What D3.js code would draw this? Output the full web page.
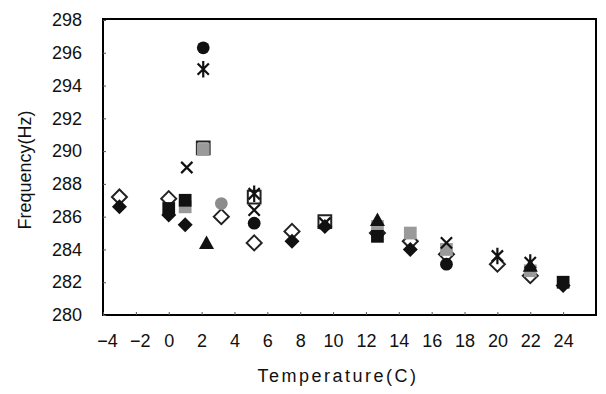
<!DOCTYPE html>
<html><head><meta charset="utf-8">
<script src="https://cdn.jsdelivr.net/npm/d3@7"></script>
<style>
html,body{margin:0;padding:0;background:#fff;}
text{font-family:"Liberation Sans",Arial,sans-serif;fill:#111;}
</style></head>
<body><svg id="c" width="606" height="394"></svg>
<script>
// ---- data (temperature °C, frequency Hz) ----
const xTicks = [-4,-2,0,2,4,6,8,10,12,14,16,18,20,22,24];
const yTicks = [280,282,284,286,288,290,292,294,296,298];
const hollowDiamond = [[-3,287.2],[0,287.1],[3.2,286.0],[5.2,284.4],[7.5,285.1],[12.7,285.0],[14.7,284.5],[16.9,283.7],[20,283.1],[22,282.4]];
const hollowSquare  = [[2.1,290.2],[5.2,287.2],[9.5,285.7]];
const graySquare    = [[1,286.6],[2.1,290.1],[12.7,285.4],[14.7,285.0],[16.9,284.0],[22,282.7]];
const grayCircle    = [[3.2,286.8]];
const blackSquare   = [[0,286.5],[1,287.0],[12.7,284.8],[24,282.0]];
const blackDiamond  = [[-3,286.6],[0,286.1],[1,285.5],[7.5,284.5],[9.5,285.4],[14.7,284.0],[24,281.8]];
const blackTriangle = [[2.3,284.4],[12.7,285.8],[22,283.0]];
const blackCircle   = [[2.1,296.3],[5.2,285.6],[16.9,283.1]];
const crossMark     = [[1.1,289.0],[5.2,286.4],[9.5,285.6],[16.9,284.4]];
const asteriskMark  = [[2.1,295.0],[5.2,287.4],[20,283.6],[22,283.2]];

const svg = d3.select("#c");
const L=103, R=596, T=19, B=315;
const x = d3.scaleLinear().domain([-4,26]).range([L,R]);
const y = d3.scaleLinear().domain([280,298]).range([B,T+1]);

// frame
svg.append("rect").attr("x",L).attr("y",T).attr("width",R-L).attr("height",B-T)
  .attr("fill","none").attr("stroke","#000").attr("stroke-width",2);

// axes (ticks inward, labels)
const gx = svg.append("g").attr("transform",`translate(0,${B})`)
  .call(d3.axisBottom(x).tickValues(xTicks).tickSize(-3).tickPadding(19).tickFormat(d=>d<0?"\u2212"+Math.abs(d):d));
const gy = svg.append("g").attr("transform",`translate(${L},0)`)
  .call(d3.axisLeft(y).tickValues(yTicks).tickSize(-3).tickPadding(21));
[gx,gy].forEach(g=>{
  g.select(".domain").remove();
  g.selectAll(".tick line").attr("stroke","#555").attr("stroke-width",1);
  g.selectAll("text").attr("font-size",18).attr("fill","#111").style("font-family","Liberation Sans, Arial, sans-serif");
});
gx.selectAll(".tick text").filter(d=>d<0).attr("dx",4);

svg.append("text").attr("transform","translate(31,170) rotate(-90)").attr("text-anchor","middle")
  .attr("font-size",18).text("Frequency(Hz)");
svg.append("text").attr("x",338).attr("y",382).attr("text-anchor","middle")
  .attr("font-size",18).attr("letter-spacing","2.5px").text("Temperature(C)");

// marker paths
const r = 7.5;
const shapes = {
  diamond: `M0,${-r}L${r},0L0,${r}L${-r},0Z`,
  square: `M${-r*0.85},${-r*0.85}H${r*0.85}V${r*0.85}H${-r*0.85}Z`,
  triangle: `M0,${-r}L${r},${r*0.8}L${-r},${r*0.8}Z`,
  circle: d3.symbol(d3.symbolCircle, Math.PI*(r*0.85)**2)(),
  cross: `M${-r*0.75},${-r*0.75}L${r*0.75},${r*0.75}M${r*0.75},${-r*0.75}L${-r*0.75},${r*0.75}`,
  asterisk: `M${-r*0.75},${-r*0.75}L${r*0.75},${r*0.75}M${r*0.75},${-r*0.75}L${-r*0.75},${r*0.75}M0,${-r*1.1}V${r*1.1}`
};
const layers = [
  {data:hollowDiamond, shape:"diamond", fill:"none", stroke:"#222", sw:2},
  {data:hollowSquare, shape:"square", fill:"none", stroke:"#222", sw:2},
  {data:graySquare, shape:"square", fill:"#9a9a9a", stroke:"none", sw:0},
  {data:grayCircle, shape:"circle", fill:"#8c8c8c", stroke:"none", sw:0},
  {data:blackSquare, shape:"square", fill:"#111", stroke:"none", sw:0},
  {data:blackDiamond, shape:"diamond", fill:"#111", stroke:"none", sw:0},
  {data:blackTriangle, shape:"triangle", fill:"#111", stroke:"none", sw:0},
  {data:blackCircle, shape:"circle", fill:"#111", stroke:"none", sw:0},
  {data:crossMark, shape:"cross", fill:"none", stroke:"#111", sw:2.2},
  {data:asteriskMark, shape:"asterisk", fill:"none", stroke:"#111", sw:2.2}
];
layers.forEach(l=>{
  svg.append("g").selectAll("path").data(l.data).join("path")
    .attr("d",shapes[l.shape])
    .attr("transform",d=>`translate(${x(d[0])},${y(d[1])})`)
    .attr("fill",l.fill).attr("stroke",l.stroke).attr("stroke-width",l.sw);
});
</script></body></html>
